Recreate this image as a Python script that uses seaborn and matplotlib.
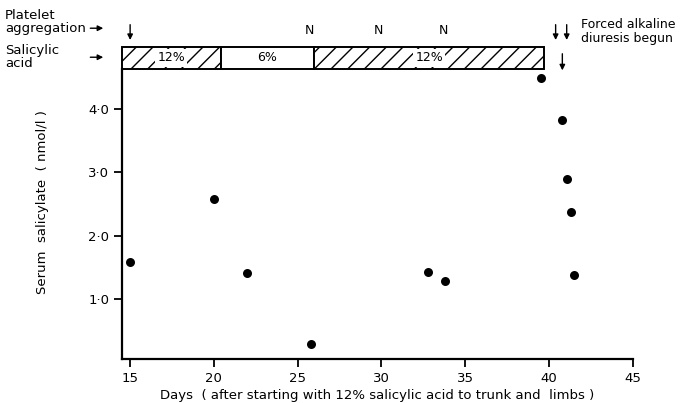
import matplotlib
matplotlib.use("Agg")
import matplotlib.pyplot as plt
import seaborn as sns
import pandas as pd
import numpy as np

# serum salicylate readings
days = [15, 20, 22, 25.8, 32.8, 33.8, 39.5, 40.8, 41.1, 41.3, 41.5]
salicylate = [1.58, 2.58, 1.41, 0.29, 1.42, 1.28, 4.49, 3.83, 2.9, 2.37, 1.38]

# salicylic acid treatment periods (bar along the top)
treat_start = [14.5, 20.4, 26.0]
treat_end = [20.4, 26.0, 39.7]
treat_label = ["12%", "6%", "12%"]
treat_hatch = ["//", "", "//"]

x_ticks = [15, 20, 25, 30, 35, 40, 45]
y_ticks = [1.0, 2.0, 3.0, 4.0]
y_tick_labels = ["1·0", "2·0", "3·0", "4·0"]

platelet_days = [15]
n_days = [25.7, 29.8, 33.7]
double_arrow_days = [40.4, 41.06]
diuresis_day = 40.8

sns.set_style("white")
plt.rcParams["font.family"] = ["DejaVu Sans"]
plt.rcParams["hatch.linewidth"] = 1.0
for key in ["text.color", "axes.labelcolor", "xtick.color", "ytick.color"]:
    plt.rcParams[key] = "black"

fig = plt.figure(figsize=(6.84, 4.03), dpi=100)
ax = fig.add_axes([0.178, 0.109, 0.747, 0.777])

df = pd.DataFrame({"day": days, "sal": salicylate})
sns.scatterplot(data=df, x="day", y="sal", ax=ax, color="black", s=42,
                edgecolor="black", linewidth=0, zorder=3)

ax.set_xlim(14.5, 45)
ax.set_ylim(0.05, 5.0)
bar_lo, bar_hi = 4.63, 4.99

# treatment bar
for s0, s1, lab, h in zip(treat_start, treat_end, treat_label, treat_hatch):
    ax.barh((bar_lo + bar_hi) / 2, s1 - s0, left=s0, height=bar_hi - bar_lo,
            facecolor="white", edgecolor="black", hatch=h, linewidth=1.4,
            clip_on=False, zorder=2)
    ax.text((s0 + s1) / 2, (bar_lo + bar_hi) / 2, lab, ha="center", va="center",
            fontsize=9, zorder=4,
            bbox=dict(facecolor="white", edgecolor="none", pad=1.5) if h else None)

for d in n_days:
    ax.text(d, 5.25, "N", ha="center", va="center", fontsize=9, clip_on=False)

arrow = dict(arrowstyle="-|>", color="black", lw=1.0, mutation_scale=8)
for d in platelet_days + double_arrow_days:
    ax.annotate("", xy=(d, 5.05), xytext=(d, 5.38), arrowprops=arrow,
                annotation_clip=False)
ax.annotate("", xy=(diuresis_day, 4.57), xytext=(diuresis_day, 4.92),
            arrowprops=arrow, annotation_clip=False)

ax.text(41.9, 5.23, "Forced alkaline\ndiuresis begun", ha="left", va="center",
        fontsize=9, linespacing=1.05, clip_on=False)

# left side labels
fig.text(0.007, 0.945, "Platelet\naggregation", ha="left", va="center",
         fontsize=9.5, linespacing=1.0)
fig.text(0.007, 0.858, "Salicylic\nacid", ha="left", va="center",
         fontsize=9.5, linespacing=1.0)
ax.annotate("", xy=(0.155, 0.93), xytext=(0.128, 0.93), xycoords="figure fraction",
            arrowprops=arrow)
ax.annotate("", xy=(0.155, 0.858), xytext=(0.128, 0.858), xycoords="figure fraction",
            arrowprops=arrow)

ax.set_xticks(x_ticks)
ax.set_yticks(y_ticks)
ax.set_yticklabels(y_tick_labels)
ax.tick_params(axis="both", direction="out", length=6, width=1.3, labelsize=9.5,
               bottom=True, left=True, pad=3)

for side in ["top", "right"]:
    ax.spines[side].set_visible(False)
for side in ["left", "bottom"]:
    ax.spines[side].set_linewidth(1.6)
    ax.spines[side].set_color("black")
ax.spines["left"].set_bounds(0.05, bar_lo)
ax.spines["bottom"].set_bounds(14.5, 45)

ax.set_xlabel("Days  ( after starting with 12% salicylic acid to trunk and  limbs )",
              fontsize=9.5, labelpad=3)
ax.set_ylabel("Serum  salicylate  ( nmol/l )", fontsize=9.5, labelpad=28)

fig.savefig("out.png", dpi=100)
